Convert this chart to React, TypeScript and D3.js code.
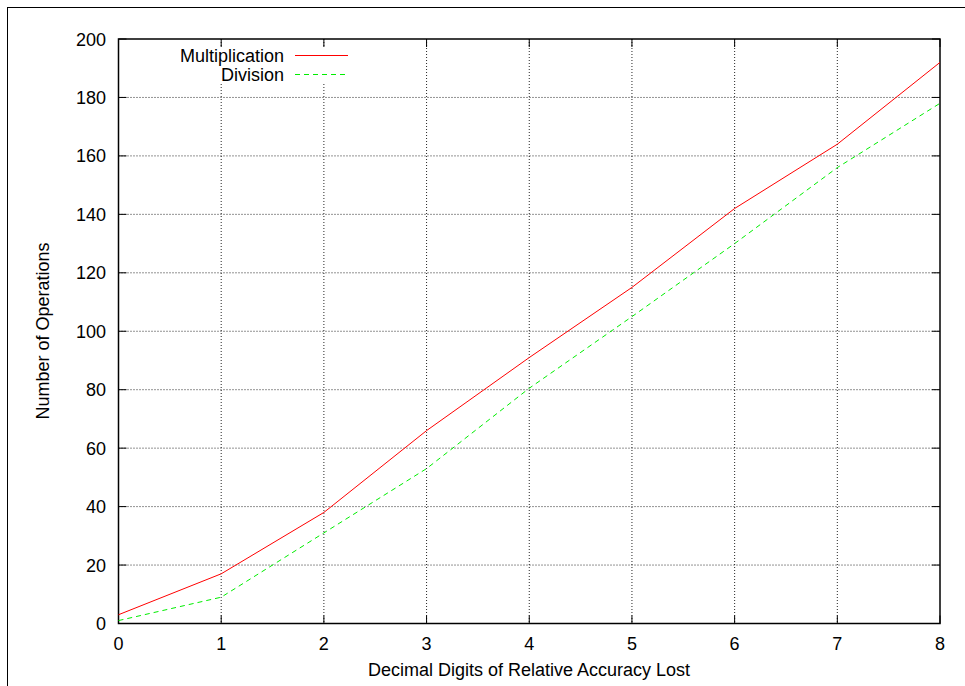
import React from "react";
import * as d3 from "d3";

const xValues = [0, 1, 2, 3, 4, 5, 6, 7, 8];
const multiplication = [3, 17, 38, 66, 91, 115, 142, 164, 192];
const division = [1, 9, 31, 53, 80.5, 105, 130, 156, 178];
const xTicks = [0, 1, 2, 3, 4, 5, 6, 7, 8];
const yTicks = [0, 20, 40, 60, 80, 100, 120, 140, 160, 180, 200];
const seriesNames = ["Multiplication", "Division"];

export default function App() {
  const W = 965, H = 686;
  const left = 118.5, right = 940, top = 39, bottom = 623.5;
  const x = d3.scaleLinear().domain([0, 8]).range([left, right]);
  const y = d3.scaleLinear().domain([0, 200]).range([bottom, top]);
  const line = d3.line<number>().x((_, i) => x(xValues[i])).y((d) => y(d));
  const font = "'Liberation Sans', Arial, Helvetica, sans-serif";
  const tl = 8;
  const fs = 18;
  return (
    <svg width={W} height={H} style={{ position: "absolute", left: 0, top: 0 }} fontFamily={font}>
      <rect x={0} y={0} width={W} height={H} fill="#fff" />
      <rect x={7.5} y={7.5} width={W + 20} height={H + 20} fill="none" stroke="#000" strokeWidth={1} />
      {/* grid */}
      {xTicks.filter((t) => t > 0 && t < 8).map((t) => (
        <line key={"gx" + t} x1={x(t)} x2={x(t)} y1={top} y2={bottom} stroke="#000" strokeWidth={1} strokeDasharray="1,2" opacity={0.85} />
      ))}
      {yTicks.filter((t) => t > 0 && t < 200).map((t) => (
        <line key={"gy" + t} x1={left} x2={right} y1={y(t)} y2={y(t)} stroke="#000" strokeWidth={1} strokeDasharray="1,2" opacity={0.85} />
      ))}
      {/* legend background */}
      <rect x={172} y={47} width={183} height={36} fill="#fff" />
      {/* ticks */}
      {xTicks.map((t) => (
        <g key={"tx" + t}>
          <line x1={x(t)} x2={x(t)} y1={bottom} y2={bottom - tl} stroke="#000" />
          <line x1={x(t)} x2={x(t)} y1={top} y2={top + tl} stroke="#000" />
          <text x={x(t)} y={650} fontSize={fs} textAnchor="middle">{t}</text>
        </g>
      ))}
      {yTicks.map((t) => (
        <g key={"ty" + t}>
          <line x1={left} x2={left + tl} y1={y(t)} y2={y(t)} stroke="#000" />
          <line x1={right} x2={right - tl} y1={y(t)} y2={y(t)} stroke="#000" />
          <text x={106} y={y(t) + 6.5} fontSize={fs} textAnchor="end">{t}</text>
        </g>
      ))}
      <rect x={left} y={top} width={right - left} height={bottom - top} fill="none" stroke="#000" strokeWidth={1.5} />
      {/* series */}
      <path d={line(multiplication) || ""} fill="none" stroke="#ff0000" strokeWidth={1} />
      <path d={line(division) || ""} fill="none" stroke="#00ee00" strokeWidth={1} strokeDasharray="5,4" />
      {/* legend */}
      <text x={284} y={62} fontSize={fs} textAnchor="end">{seriesNames[0]}</text>
      <line x1={295} x2={348} y1={55.5} y2={55.5} stroke="#ff0000" />
      <text x={284} y={81} fontSize={fs} textAnchor="end">{seriesNames[1]}</text>
      <line x1={295} x2={348} y1={74.5} y2={74.5} stroke="#00ee00" strokeDasharray="5,4" />
      {/* axis labels */}
      <text x={529} y={676} fontSize={fs} textAnchor="middle">Decimal Digits of Relative Accuracy Lost</text>
      <text transform="translate(49,331) rotate(-90)" fontSize={fs} textAnchor="middle">Number of Operations</text>
    </svg>
  );
}
